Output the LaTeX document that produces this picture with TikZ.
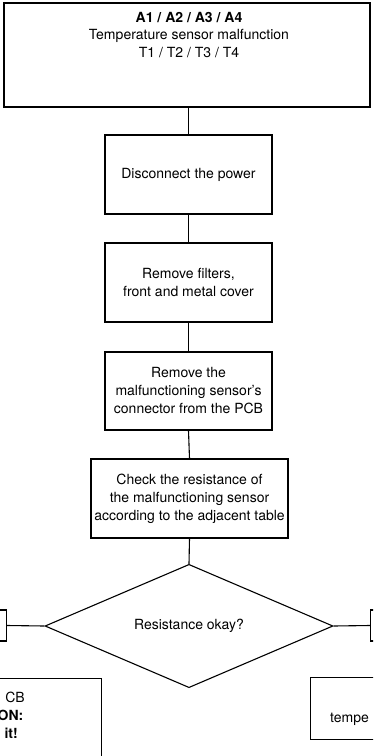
\documentclass[tikz,border=0pt]{standalone}
\usepackage{fontspec}
\setmainfont{TeX Gyre Heros}
\usetikzlibrary{shapes.geometric}
\begin{document}
\begin{tikzpicture}[x=1pt,y=-1pt,
  every node/.style={font=\fontsize{14}{18}\selectfont},
  box/.style={draw=black, line width=1.1pt, inner sep=0pt, align=center},
  conn/.style={draw=black, line width=1.1pt},
  txt/.style={inner sep=0pt, align=center}]
\useasboundingbox (0,0) rectangle (373,756);
\clip (0,0) rectangle (373,756);
% top box
\node[box, minimum width=366pt, minimum height=104pt] (top) at (187,55) {};
\node[txt, anchor=north, font=\fontsize{14}{17.5}\selectfont] (toptext) at (189,12)
  {\textbf{A1 / A2 / A3 / A4}\\Temperature sensor malfunction\\T1 / T2 / T3 / T4};
% steps
\node[box, minimum width=167pt, minimum height=79pt] (s1) at (188.5,174.5) {Disconnect the power};
\node[box, minimum width=167pt, minimum height=79pt] (s2) at (188.5,282.5) {Remove filters,\\front and metal cover};
\node[box, minimum width=167pt, minimum height=78pt] (s3) at (188.5,391) {Remove the\\malfunctioning sensor's\\connector from the PCB};
\node[box, minimum width=197pt, minimum height=79pt] (s4) at (189.5,498.5) {Check the resistance of\\the malfunctioning sensor\\according to the adjacent table};
% decision
\node[draw=black, line width=1.1pt, shape=diamond, inner sep=0pt, minimum width=288pt, minimum height=122pt] (dec) at (189,626) {Resistance okay?};
\node[box, anchor=east, minimum width=40pt, minimum height=31pt] (lbox) at (7,625.5) {};
\node[box, anchor=west, minimum width=40pt, minimum height=31pt] (rbox) at (370,625.5) {};
% bottom boxes
\node[box, anchor=north east, minimum width=150pt, minimum height=110pt] (lres) at (102,678) {};
\node[txt, anchor=base east] (l1) at (25,702) {CB};
\node[txt, anchor=base east, font=\fontsize{14}{18}\selectfont\bfseries] (l2) at (23.5,720) {ON:};
\node[txt, anchor=base east, font=\fontsize{14}{18}\selectfont\bfseries] (l3) at (18,738) {it!};
\node[box, anchor=north west, minimum width=120pt, minimum height=62pt] (rres) at (310,677) {};
\node[txt, anchor=base west] (r2) at (330,722) {tempe};
% connectors
\draw[conn] (top.south -| s1.north) -- (s1.north);
\draw[conn] (s1.south) -- (s2.north);
\draw[conn] (s2.south) -- (s3.north);
\draw[conn] (s3.south) -- (s4.north);
\draw[conn] (s4.south) -- (dec.north);
\draw[conn] (dec.west) -- (lbox.east);
\draw[conn] (dec.east) -- (rbox.west);
\end{tikzpicture}
\end{document}
